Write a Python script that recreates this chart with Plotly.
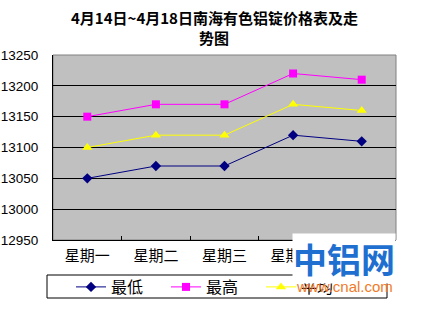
import plotly.graph_objects as go

categories = ["星期一", "星期二", "星期三", "星期四", "星期五"]
low = [13050, 13070, 13070, 13120, 13110]
high = [13150, 13170, 13170, 13220, 13210]
avg = [13100, 13120, 13120, 13170, 13160]

PL, PR, PT, PB = 53, 396, 55, 240
PW, PH = PR - PL, PB - PT

def px(x):
    return (x - PL) / PW

def py(y):
    return (PB - y) / PH

fig = go.Figure()
fig.add_trace(go.Scatter(x=categories, y=low, name="最低", mode="lines+markers",
                         line=dict(color="#000080", width=1),
                         marker=dict(symbol="diamond", size=8, color="#000080")))
fig.add_trace(go.Scatter(x=categories, y=high, name="最高", mode="lines+markers",
                         line=dict(color="#FF00FF", width=1),
                         marker=dict(symbol="square", size=8, color="#FF00FF")))
fig.add_trace(go.Scatter(x=categories, y=avg, name="平均", mode="lines+markers",
                         line=dict(color="#FFFF00", width=1),
                         marker=dict(symbol="triangle-up", size=9, color="#FFFF00")))

fig.update_layout(
    width=425, height=315,
    margin=dict(l=PL, r=425 - PR, t=PT, b=315 - PB, autoexpand=False),
    paper_bgcolor="white", plot_bgcolor="#C0C0C0",
    font=dict(family="Noto Sans CJK SC, sans-serif", size=15, color="black"),
    xaxis=dict(range=[-0.5, 4.5], showgrid=False, showline=True, linecolor="black",
               linewidth=1, ticks="inside", tickson="boundaries", ticklen=4,
               tickcolor="black", tickfont=dict(size=15), ticklabelstandoff=2,
               automargin=False),
    yaxis=dict(range=[12950, 13250], dtick=50, tickformat="d", showgrid=True,
               gridcolor="black", gridwidth=1, showline=True, linecolor="black",
               ticks="", tickfont=dict(family="Liberation Sans", size=13.5),
               ticklabelstandoff=11, zeroline=False, automargin=False),
    legend=dict(orientation="h", x=px(71), xanchor="left", y=py(287), yanchor="middle",
                borderwidth=0, bgcolor="rgba(0,0,0,0)", font=dict(size=16),
                itemwidth=30, entrywidth=50, entrywidthmode="pixels",
                tracegroupgap=0),
    showlegend=True,
    shapes=[
        dict(type="rect", xref="paper", yref="paper", x0=0, x1=1, y0=0, y1=1,
             line=dict(color="#808080", width=1), layer="below"),
        dict(type="rect", xref="paper", yref="paper", x0=px(47), x1=px(387),
             y0=py(275), y1=py(298), line=dict(color="black", width=1)),
    ],
)
fig.add_annotation(text="<b>4月14日~4月18日南海有色铝锭价格表及走</b>", xref="paper", yref="paper",
                   x=px(214), y=py(17), xanchor="center", yanchor="middle",
                   showarrow=False, font=dict(size=15))
fig.add_annotation(text="<b>势图</b>", xref="paper", yref="paper",
                   x=px(214), y=py(37), xanchor="center", yanchor="middle",
                   showarrow=False, font=dict(size=15))
fig.add_annotation(text="<b>中铝网</b>", xref="paper", yref="paper", x=px(344), y=py(258),
                   xanchor="center", yanchor="middle", showarrow=False,
                   bgcolor="white", borderpad=0,
                   font=dict(size=34, color="#1E6FD0"))
fig.add_annotation(text="www.cnal.com", xref="paper", yref="paper", x=px(344), y=py(286),
                   xanchor="center", yanchor="middle", showarrow=False,
                   font=dict(size=15, color="#F07A28", family="Liberation Sans"))
fig.write_html("out.html")
